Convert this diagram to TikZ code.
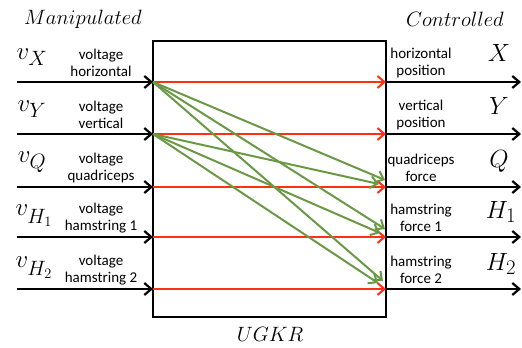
\documentclass[tikz,border=0pt]{standalone}
\usepackage[no-math]{fontspec}
\setmainfont{Carlito}
\usetikzlibrary{arrows.meta}
\definecolor{redarr}{RGB}{255,48,20}
\definecolor{greenarr}{RGB}{106,153,70}
\tikzset{
  blackarr/.style={line width=2.2pt, draw=black, -{Straight Barb[length=7pt,width=12pt,line width=2.2pt]}},
  redline/.style={line width=2pt, draw=redarr, -{Straight Barb[length=7pt,width=12pt,line width=2pt]}},
  greenline/.style={line width=2pt, draw=greenarr, -{Straight Barb[length=7pt,width=12pt,line width=2pt]}},
  lbl/.style={font=\fontsize{15}{16.5}\selectfont, align=center, inner sep=0pt},
  mathlbl/.style={font=\fontsize{28}{30}\selectfont, inner sep=0pt},
  ttl/.style={font=\fontsize{21}{24}\selectfont, inner sep=0pt}
}
\begin{document}
\begin{tikzpicture}[x=1pt,y=-1pt]
\useasboundingbox (0,0) rectangle (522,348);
\node[draw, line width=2.2pt, minimum width=233pt, minimum height=276pt, inner sep=0pt] (box) at (269.5,179) {};
% row coordinates
\foreach \i/\y in {1/82,2/134,3/187,4/237,5/289}{
  \coordinate (I\i) at (17,\y);
  \coordinate (L\i) at (153,\y);
  \coordinate (R\i) at (386,\y);
  \coordinate (O\i) at (521,\y);
}
\foreach \i in {1,...,5}{
  \draw[blackarr] (I\i) -- (L\i);
  \draw[redline] (L\i) -- (R\i);
  \draw[blackarr] (R\i) -- (O\i);
}
% green ends
\coordinate (g13) at (385,180);
\coordinate (g14) at (385,229);
\coordinate (g15) at (383,281);
\coordinate (g23) at (379,184);
\coordinate (g24) at (380,233);
\coordinate (g25) at (378,283);
\draw[greenline] (L1) -- (g13);
\draw[greenline] (L1) -- (g14);
\draw[greenline] (L1) -- (g15);
\draw[greenline] (L2) -- (g23);
\draw[greenline] (L2) -- (g24);
\draw[greenline] (L2) -- (g25);
% titles
\node[ttl] (man) at (83,19) {$Manipulated$};
\node[ttl] (con) at (455,19) {$Controlled$};
\node[ttl] (ugkr) at (270,334) {$UGKR$};
% left labels
\node[lbl] (t1) at (101,63) {voltage\\horizontal};
\node[lbl] (t2) at (101,115) {voltage\\vertical};
\node[lbl] (t3) at (101,168) {voltage\\quadriceps};
\node[lbl] (t4) at (101,218) {voltage\\hamstring 1};
\node[lbl] (t5) at (101,270) {voltage\\hamstring 2};
\node[mathlbl] (v1) at (32,57) {$v_X$};
\node[mathlbl] (v2) at (32,109) {$v_Y$};
\node[mathlbl] (v3) at (32,162) {$v_Q$};
\node[mathlbl] (v4) at (34,216) {$v_{\lower4pt\hbox{$\scriptstyle H_1$}}$};
\node[mathlbl] (v5) at (34,268) {$v_{\lower4pt\hbox{$\scriptstyle H_2$}}$};
% right labels
\node[lbl] (c1) at (421,63) {horizontal\\position};
\node[lbl] (c2) at (421,115) {vertical\\position};
\node[lbl] (c3) at (421,168) {quadriceps\\force};
\node[lbl] (c4) at (421,218) {hamstring\\force 1};
\node[lbl] (c5) at (421,270) {hamstring\\force 2};
\node[mathlbl] (x1) at (499,53) {$X$};
\node[mathlbl] (x2) at (499,106) {$Y$};
\node[mathlbl] (x3) at (499,161) {$Q$};
\node[mathlbl] (x4) at (501,212) {$H_1$};
\node[mathlbl] (x5) at (501,264) {$H_2$};
\end{tikzpicture}
\end{document}
